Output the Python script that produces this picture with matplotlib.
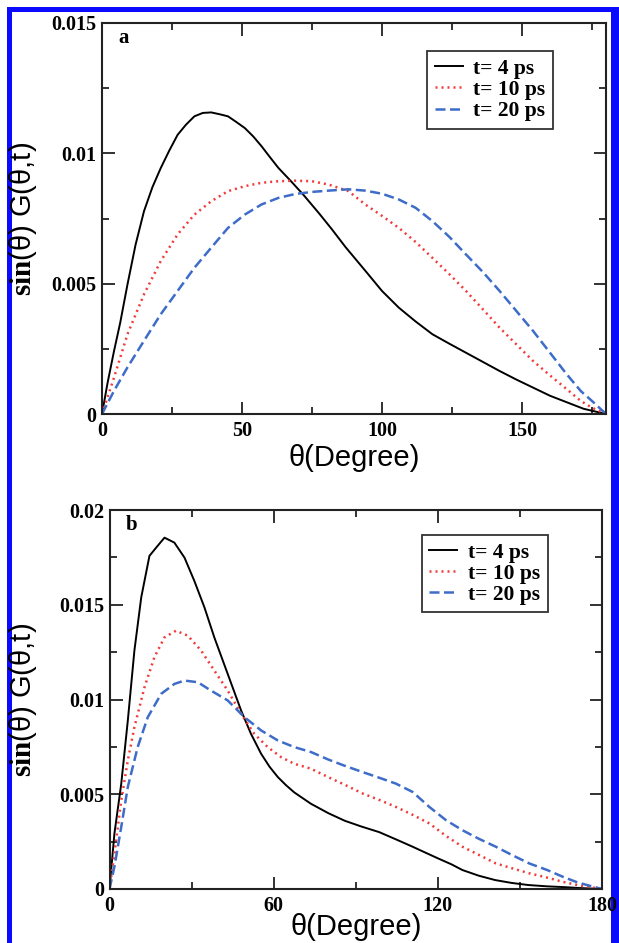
import matplotlib
matplotlib.use("Agg")
import matplotlib.pyplot as plt
from matplotlib.patches import Rectangle
from matplotlib.ticker import FixedLocator

plt.rcParams['mathtext.fontset'] = 'custom'
plt.rcParams['mathtext.bf'] = 'Liberation Serif:bold'
plt.rcParams['mathtext.rm'] = 'Liberation Sans'

# ---------------- data: panel a ----------------
theta_a_4 = [0, 2, 4.3, 6.5, 9.1, 12, 15, 18, 21, 24, 27, 30, 33, 36, 39, 42, 45, 48, 51,
             54, 57, 60, 63, 67.5, 72, 77.5, 82, 87, 94, 100, 106, 112, 118, 124, 130,
             136, 142, 148, 154, 160, 166, 172, 180]
g_a_4 = [0, 0.0012, 0.00242, 0.0035, 0.00497, 0.0065, 0.00778, 0.0087, 0.00944, 0.0101,
         0.01071, 0.0111, 0.01142, 0.01155, 0.01157, 0.0115, 0.01142, 0.0112, 0.01097,
         0.01065, 0.01027, 0.00985, 0.00944, 0.00893, 0.0084, 0.0077, 0.0071, 0.0064,
         0.0055, 0.00472, 0.00408, 0.00355, 0.00306, 0.0027, 0.00235, 0.002, 0.00165,
         0.00132, 0.00101, 0.0007, 0.00045, 0.0002, 0]

theta_a_10 = [0, 4.3, 9.1, 15, 21, 27, 33, 39, 45, 51, 57, 63, 69, 75, 81, 88, 94, 100,
              106, 112, 118, 124, 130, 136, 142, 148, 154, 160, 166, 171, 175, 180]
g_a_10 = [0, 0.0014, 0.00306, 0.00459, 0.00587, 0.00689, 0.00765, 0.00816, 0.00855,
          0.00874, 0.00887, 0.00893, 0.00895, 0.00893, 0.0088, 0.00855, 0.00804, 0.0076,
          0.00714, 0.0066, 0.00599, 0.00537, 0.00472, 0.00402, 0.00331, 0.00267, 0.00203,
          0.00148, 0.00095, 0.0005, 0.00024, 0]

theta_a_20 = [0, 4.3, 9.1, 15, 21, 27, 33, 39, 45, 51, 57, 63, 69, 75, 81, 88, 94, 100,
              106, 112, 118, 124, 130, 136, 142, 148, 154, 160, 166, 171, 175, 180]
g_a_20 = [0, 0.00089, 0.00179, 0.00281, 0.00383, 0.00472, 0.00561, 0.00638, 0.00714,
          0.00765, 0.00804, 0.00829, 0.00844, 0.00852, 0.00857, 0.00862, 0.00857, 0.00845,
          0.00823, 0.00791, 0.0074, 0.0068, 0.00612, 0.00545, 0.00472, 0.00395, 0.00318,
          0.00235, 0.00152, 0.00088, 0.0005, 0]

# ---------------- data: panel b ----------------
theta_b_4 = [0, 1.8, 4.3, 6.7, 9.1, 11.6, 14.6, 17.6, 20.1, 23.7, 27.4, 31, 34.7, 38.3,
             43.2, 48.1, 51.7, 55.4, 58.5, 61.5, 64.5, 67.5, 73.6, 80, 86, 92, 98.6, 105,
             110.8, 115, 120, 125, 129, 135, 141, 147, 153, 160, 166, 172, 180]
g_b_4 = [0, 0.00293, 0.00556, 0.0089, 0.01258, 0.01539, 0.01758, 0.01811, 0.01854,
         0.01828, 0.01749, 0.01626, 0.01486, 0.01328, 0.01135, 0.00942, 0.00819, 0.00714,
         0.00645, 0.00591, 0.00548, 0.0051, 0.0045, 0.004, 0.0036, 0.0033, 0.003, 0.0026,
         0.00223, 0.00195, 0.00162, 0.0013, 0.001, 0.0007, 0.00047, 0.00032, 0.00021,
         0.00014, 0.0001, 0.00005, 0]

theta_b_10 = [0, 1.8, 4.3, 6.7, 9.1, 12.8, 16.4, 20.1, 24.3, 28.6, 33.5, 38.3, 43.2, 48.1,
              52.9, 57.8, 62.7, 67.5, 73.6, 80, 86, 92.5, 98.6, 104.7, 111, 116.9, 123,
              129, 135, 141.2, 147, 153.4, 160, 165.6, 172, 180]
g_b_10 = [0, 0.00188, 0.00468, 0.00679, 0.00854, 0.01065, 0.01223, 0.01328, 0.01363,
          0.01337, 0.01258, 0.01153, 0.01047, 0.00925, 0.00819, 0.00749, 0.00696, 0.00661,
          0.00635, 0.0059, 0.0055, 0.00504, 0.0047, 0.00433, 0.0039, 0.00346, 0.0028,
          0.00223, 0.0018, 0.00135, 0.0011, 0.00083, 0.0006, 0.00038, 0.00018, 0]

theta_b_20 = [0, 1.8, 4.3, 6.7, 10.3, 14, 18.9, 23.7, 27.4, 32.3, 37.1, 43.2, 49.3, 55.4,
              61.5, 67.5, 73.6, 80, 86, 92.5, 98.6, 104.7, 110.8, 116.9, 123, 129, 135,
              141.2, 147, 153.4, 160, 165.6, 171, 175.3, 180]
g_b_20 = [0, 0.00118, 0.00328, 0.00539, 0.00749, 0.00907, 0.0103, 0.01082, 0.011,
          0.01091, 0.01047, 0.00995, 0.00907, 0.00837, 0.00784, 0.00749, 0.00723, 0.00683,
          0.0065, 0.00617, 0.00587, 0.00556, 0.00512, 0.00433, 0.00363, 0.0031, 0.00265,
          0.00223, 0.0018, 0.00135, 0.001, 0.00065, 0.00035, 0.00018, 0]

series_labels = ["t= 4 ps", "t= 10 ps", "t= 20 ps"]
panel_labels = ["a", "b"]

xticks_a = [0, 50, 100, 150]
xminor_a = [25, 75, 125, 175]
yticks_a = [0, 0.005, 0.01, 0.015]
ytick_labels_a = ["0", "0.005", "0.01", "0.015"]
yminor_a = [0.0025, 0.0075, 0.0125]

xticks_b = [0, 60, 120, 180]
xminor_b = [30, 90, 150]
yticks_b = [0, 0.005, 0.01, 0.015, 0.02]
ytick_labels_b = ["0", "0.005", "0.01", "0.015", "0.02"]
yminor_b = [0.0025, 0.0075, 0.0125, 0.0175]

xlabel = "θ(Degree)"
ylabel = r"$\mathbf{sin}$(θ) G(θ,t)"

# ---------------- figure ----------------
W, H = 619, 943
fig = plt.figure(figsize=(W / 100, H / 100), dpi=100)
fig.patch.set_facecolor("white")

# blue frame (drawn beneath the axes so edge tick labels stay readable)
blue = "#0a0aff"
def px_rect(x0, y0, x1, y1):
    fig.add_artist(Rectangle((x0 / W, 1 - y1 / H), (x1 - x0) / W, (y1 - y0) / H,
                             transform=fig.transFigure, facecolor=blue,
                             edgecolor="none", zorder=-1))
px_rect(7, 7, 619, 12)
px_rect(7, 7, 12, 943)
px_rect(611, 7, 619, 943)

def px_axes(x0, y0, x1, y1):
    return fig.add_axes([x0 / W, 1 - y1 / H, (x1 - x0) / W, (y1 - y0) / H])

ax_a = px_axes(102, 23, 606, 414)
ax_b = px_axes(109.5, 510, 602, 889)

colors = ["black", "#f23a3a", "#3d6cc9"]
styles = ["-", (0, (0.8, 1.6)), (0, (4, 1.8))]
lws = [1.4, 1.8, 1.8]

tick_font = dict(family="Liberation Serif", weight="bold", size=14.5)

def style_axes(ax, data, xt, xm, yt, ytl, ym, ylim, label, leg_anchor, ylab_x, xlab_pad):
    for (th, g), c, ls, lw, lab in zip(data, colors, styles, lws, series_labels):
        ax.plot(th, g, color=c, linestyle=ls, lw=lw, label=lab)
    ax.set_xlim(0, 180)
    ax.set_ylim(*ylim)
    ax.xaxis.set_major_locator(FixedLocator(xt))
    ax.xaxis.set_minor_locator(FixedLocator(xm))
    ax.yaxis.set_major_locator(FixedLocator(yt))
    ax.yaxis.set_minor_locator(FixedLocator(ym))
    ax.set_xticklabels([str(v) for v in xt], fontdict=tick_font)
    ax.set_yticklabels(ytl, fontdict=tick_font)
    ax.tick_params(which="both", direction="in", top=True, right=True,
                   width=1.3, color="#222222")
    ax.tick_params(which="major", length=9)
    ax.tick_params(which="minor", length=5)
    ax.tick_params(axis="x", which="major", pad=5)
    ax.tick_params(axis="y", which="major", pad=4)
    for s in ax.spines.values():
        s.set_linewidth(1.5)
        s.set_color("#222222")
    ax.set_xlabel(xlabel, family="Liberation Sans", fontsize=21, labelpad=xlab_pad)
    ax.set_ylabel(ylabel, family="Liberation Sans", fontsize=21)
    ax.yaxis.set_label_coords(ylab_x, 0.5)
    ax.text(0.033, 0.987, label, transform=ax.transAxes, ha="left", va="top",
            family="Liberation Serif", weight="bold", fontsize=15)
    leg = ax.legend(loc="upper right", bbox_to_anchor=leg_anchor, borderaxespad=0,
                    prop=dict(family="Liberation Serif", weight="bold", size=15.5),
                    frameon=True, fancybox=False, framealpha=1, edgecolor="#333333",
                    handlelength=1.3, handletextpad=0.5, labelspacing=0.05,
                    borderpad=0.35)
    leg.get_frame().set_linewidth(1.3)

style_axes(ax_a, [(theta_a_4, g_a_4), (theta_a_10, g_a_10), (theta_a_20, g_a_20)],
           xticks_a, xminor_a, yticks_a, ytick_labels_a, yminor_a, (0, 0.015),
           panel_labels[0], (0.895, 0.928), -0.125, 2)
style_axes(ax_b, [(theta_b_4, g_b_4), (theta_b_10, g_b_10), (theta_b_20, g_b_20)],
           xticks_b, xminor_b, yticks_b, ytick_labels_b, yminor_b, (0, 0.02),
           panel_labels[1], (0.890, 0.934), -0.143, -2)

fig.savefig("out.png", dpi=100)
